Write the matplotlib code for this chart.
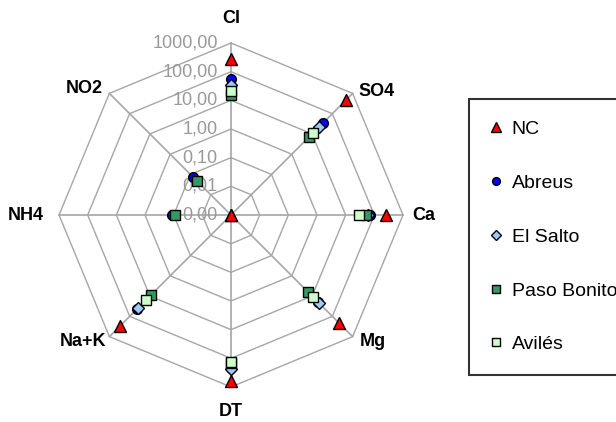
import matplotlib
matplotlib.use("Agg")
import matplotlib.pyplot as plt
import numpy as np

plt.rcParams['font.family'] = ['Liberation Sans', 'DejaVu Sans']

# data
categories = ['Cl', 'SO4', 'Ca', 'Mg', 'DT', 'Na+K', 'NH4', 'NO2']
nc = [270, 470, 250, 205, 600, 300, 0.001, 0.001]
abreus = [54, 36, 70, 20, 222, 43, 0.11, 0.074]
el_salto = [34, 23, 60, 21, 240, 40, np.nan, np.nan]
paso_bonito = [15, 6.9, 50, 6.1, 140, 9, 0.09, 0.047]
aviles = [21, 11, 30, 11.7, 130, 16, np.nan, np.nan]
ring_values = [0.001, 0.01, 0.1, 1, 10, 100, 1000]
ring_labels = ['0,00', '0,01', '0,10', '1,00', '10,00', '100,00', '1000,00']

series = [
    ('NC', nc, '^', '#ff0000', 8.5),
    ('Abreus', abreus, 'o', '#0000ff', 7),
    ('El Salto', el_salto, 'D', '#99ccff', 6),
    ('Paso Bonito', paso_bonito, 's', '#339966', 6.5),
    ('Avilés', aviles, 's', '#ccffcc', 6.5),
]

theta = np.deg2rad(np.arange(len(categories)) * 45.0)

fig = plt.figure(figsize=(6.16, 4.22), dpi=100)
ax = fig.add_axes([0.0958, 0.0829, 0.5584, 0.8152], projection='polar')
ax.set_theta_zero_location('N')
ax.set_theta_direction(-1)
ax.set_rscale('log')
ax.set_rlim(0.001, 1000)
ax.axis('off')

grid_col = '#a6a6a6'
# octagon rings
th_closed = np.append(theta, theta[0])
for r in ring_values[1:]:
    ax.plot(th_closed, [r] * len(th_closed), color=grid_col, lw=1.0, zorder=1, clip_on=False)
# spokes
for t in theta:
    ax.plot([t, t], [0.001, 1000], color=grid_col, lw=1.2, zorder=1, clip_on=False)

# radial labels
for r, lab in zip(ring_values, ring_labels):
    ax.annotate(lab, xy=(0, r), xytext=(-9.5, 0), textcoords='offset points',
                ha='right', va='center', fontsize=13, color='#999999', zorder=2)

# category labels
offsets = {
    'Cl': ((0, 18), 'center'),
    'SO4': ((4, 1.5), 'left'),
    'Ca': ((7, 0), 'left'),
    'Mg': ((5, -3.5), 'left'),
    'DT': ((0, -18), 'center'),
    'Na+K': ((-2, -3.5), 'right'),
    'NH4': ((-11, 0), 'right'),
    'NO2': ((-5, 3.5), 'right'),
}
for t, cat in zip(theta, categories):
    off, ha = offsets[cat]
    ax.annotate(cat, xy=(t, 1000), xytext=off, textcoords='offset points',
                ha=ha, va='center', fontsize=13, fontweight='bold')

# markers
for name, vals, mk, col, ms in series:
    ax.plot(theta, vals, linestyle='none', marker=mk, markersize=ms,
            markerfacecolor=col, markeredgecolor='black', markeredgewidth=1.0,
            label=name, zorder=3, clip_on=False)

leg = fig.legend(loc='upper left', bbox_to_anchor=(0.761, 0.765), fontsize=14,
                 frameon=True, fancybox=False, edgecolor='black',
                 handlelength=0.6, handletextpad=0.5, labelspacing=1.86,
                 borderpad=1.1, markerscale=0.8, borderaxespad=0)
leg.get_frame().set_linewidth(1.5)

fig.savefig('out.png', dpi=100)
